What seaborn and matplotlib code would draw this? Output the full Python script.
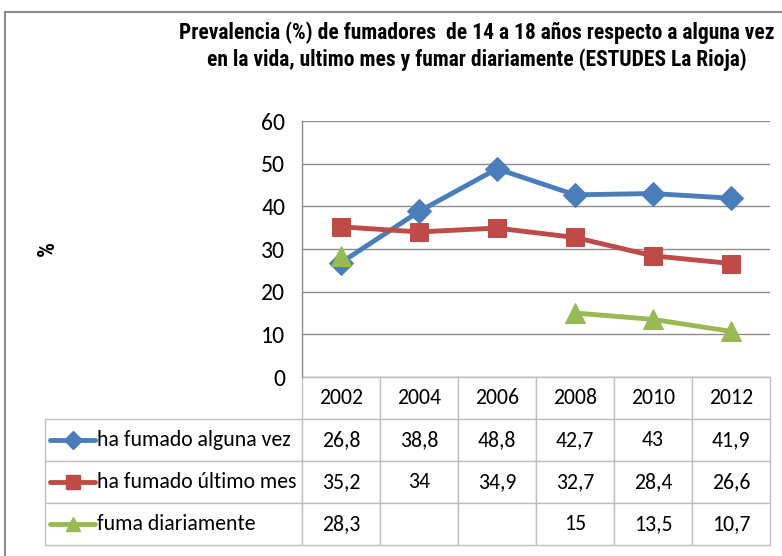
import numpy as np
import pandas as pd
import seaborn as sns
import matplotlib.pyplot as plt
from matplotlib.lines import Line2D

years = ["2002", "2004", "2006", "2008", "2010", "2012"]
alguna_vez = [26.8, 38.8, 48.8, 42.7, 43, 41.9]
ultimo_mes = [35.2, 34, 34.9, 32.7, 28.4, 26.6]
diariamente = [28.3, np.nan, np.nan, 15, 13.5, 10.7]
series_names = ["ha fumado alguna vez", "ha fumado último mes", "fuma diariamente"]
colors = ["#4A7EBB", "#BE4B48", "#98B954"]
markers = ["D", "s", "^"]
marker_sizes = [12, 12.5, 14]
yticks = [0, 10, 20, 30, 40, 50, 60]
title_1 = "Prevalencia (%) de fumadores  de 14 a 18 años respecto a alguna vez"
title_2 = "en la vida, ultimo mes y fumar diariamente (ESTUDES La Rioja)"

sns.set_theme(style="white")
plt.rcParams["font.family"] = ["Carlito", "DejaVu Sans"]
plt.rcParams["text.color"] = "black"
title_font = ["Roboto Condensed", "DejaVu Sans"]

W, H = 782, 556
fig = plt.figure(figsize=(W / 100, H / 100), dpi=100)
ax = fig.add_axes([302 / W, 1 - 377 / H, 468 / W, 256 / H])

values = [alguna_vez, ultimo_mes, diariamente]
df = pd.DataFrame({
    "serie": np.repeat(series_names, len(years)),
    "x": np.tile(np.arange(len(years)), 3),
    "value": np.concatenate(values),
})
# gaps in the data split a series into separate runs
df["run"] = df.groupby("serie")["value"].transform(lambda s: s.isna().cumsum())

for name, col, mk, ms in zip(series_names, colors, markers, marker_sizes):
    sub = df[df["serie"] == name].dropna()
    for _, run in sub.groupby("run"):
        sns.lineplot(data=run, x="x", y="value", color=col, marker=mk,
                     markersize=ms, markeredgecolor=col, linewidth=3.5,
                     ax=ax, legend=False)

ax.set_xlim(-0.5, len(years) - 0.5)
ax.set_ylim(0, 60)
ax.set_yticks(yticks)
ax.set_xticks([])
ax.set_xlabel("")
ax.set_ylabel("")
ax.tick_params(axis="y", labelsize=17, length=0, pad=12, colors="#000000")
ax.grid(axis="y", color="#8c8c8c", linewidth=1)
for side in ["top", "right", "bottom"]:
    ax.spines[side].set_visible(False)
ax.spines["left"].set_color("#8c8c8c")
ax.spines["left"].set_linewidth(1)

def fmt(v):
    return "" if np.isnan(v) else f"{v:g}".replace(".", ",")

cell_text = [[name] + [fmt(v) for v in s] for name, s in zip(series_names, values)]
label_w = 257 / 468
tab_h = 168 / 256
tab = ax.table(cellText=cell_text, colLabels=[""] + years,
               colWidths=[label_w] + [1 / 6] * 6, cellLoc="center",
               bbox=[-label_w, -tab_h, 1 + label_w, tab_h])
tab.auto_set_font_size(False)
tab.set_fontsize(15.7)
for (r, c), cell in tab.get_celld().items():
    cell.set_edgecolor("#bfbfbf")
    cell.set_linewidth(1)
    cell.get_text().set_color("#000000")
    if c == 0:
        cell.get_text().set_ha("left")
        cell.PAD = 52 / 257
        if r == 0:
            cell.visible_edges = ""

# legend keys inside the row labels
for i, (col, mk, ms) in enumerate(zip(colors, markers, marker_sizes)):
    yc = -tab_h * (i + 1.5) / 4
    x0, x1 = (50 - 302) / 468, (95 - 302) / 468
    ax.add_line(Line2D([x0, x1], [yc, yc], color=col, linewidth=3.5,
                       transform=ax.transAxes, clip_on=False))
    ax.add_line(Line2D([(x0 + x1) / 2], [yc], color=col, marker=mk,
                       markersize=ms * 0.75, markeredgecolor=col,
                       transform=ax.transAxes, clip_on=False))

# chart border
fig.add_artist(Line2D([5 / W, 5 / W], [0, 1 - 12 / H], color="#8c8c8c",
                      linewidth=1.5, transform=fig.transFigure))
fig.add_artist(Line2D([5 / W, 1], [1 - 12 / H, 1 - 12 / H], color="#8c8c8c",
                      linewidth=1.5, transform=fig.transFigure))

fig.text(477 / W, 1 - 33 / H, title_1, ha="center", va="center", color="black",
         fontsize=15.5, fontweight="bold", family=title_font)
fig.text(477 / W, 1 - 60 / H, title_2, ha="center", va="center", color="black",
         fontsize=15.5, fontweight="bold", family=title_font)
fig.text(47 / W, 1 - 248 / H, "%", rotation=90, ha="center", va="center",
         color="black", fontsize=17, fontweight="bold", family=title_font)

fig.savefig("out.png", dpi=100)
